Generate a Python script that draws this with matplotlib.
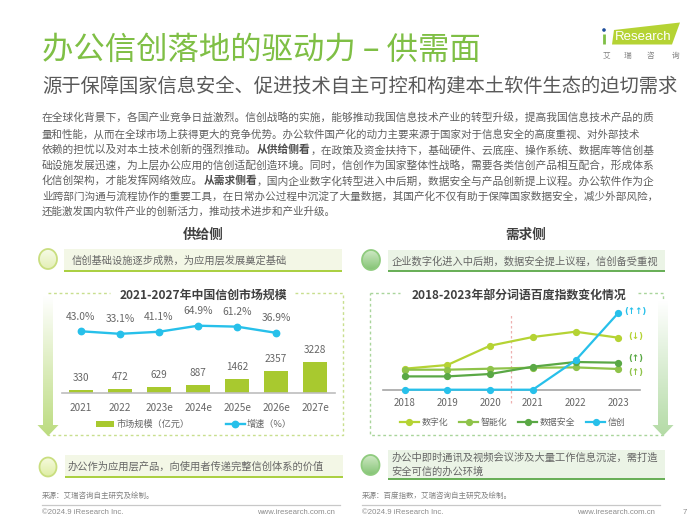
import numpy as np
import matplotlib
matplotlib.use('Agg')
import matplotlib.pyplot as plt
from matplotlib.patches import Circle, Polygon, Rectangle
from matplotlib.colors import LinearSegmentedColormap

plt.rcParams['font.family'] = ['Noto Sans CJK SC', 'DejaVu Sans']

# ---------- data ----------
market_years = ['2021', '2022', '2023e', '2024e', '2025e', '2026e', '2027e']
market_size = [330, 472, 629, 887, 1462, 2357, 3228]
growth = [43.0, 33.1, 41.1, 64.9, 61.2, 36.9]
index_years = [2018, 2019, 2020, 2021, 2022, 2023]
idx_digital = [21, 24.7, 44, 52.7, 58, 52]
idx_smart = [20, 20, 21, 22, 22.3, 20.7]
idx_datasec = [13.3, 13.3, 15.7, 23, 27.7, 27]
idx_xinchuang = [0, 0, 0, 0, 29.3, 76.7]

W, H = 700, 525
fig = plt.figure(figsize=(7, 5.25), dpi=100, facecolor='white')
bg = fig.add_axes([0, 0, 1, 1], zorder=0)
bg.set_xlim(0, W); bg.set_ylim(H, 0); bg.axis('off')

GREY = '#666666'

def T(x, y, s, size=7.4, color=GREY, ha='left', va='center', **kw):
    return bg.text(x, y, s, fontsize=size, color=color, ha=ha, va=va, **kw)

def grad(x0, x1, y0, y1, c0, c1, clip):
    cm = LinearSegmentedColormap.from_list('g', [c0, c1])
    im = bg.imshow(np.linspace(0, 1, 64)[:, None], extent=(x0, x1, y1, y0), cmap=cm,
                   aspect='auto', zorder=1, interpolation='bilinear')
    bg.add_patch(clip)
    clip.set_transform(bg.transData)
    im.set_clip_path(clip)
    bg.set_xlim(0, W); bg.set_ylim(H, 0)

def bubble(cx, cy, rx, edge, c0, c1):
    t = np.linspace(0, 2 * np.pi, 60)
    pts = np.c_[cx + rx * np.cos(t), cy + (rx + 1) * np.sin(t)]
    outer = Polygon(pts, closed=True, fc='none', ec=edge, lw=1.3, zorder=2)
    grad(cx - rx, cx + rx, cy - rx - 1, cy + rx + 1, c0, c1, outer)

def banner(x0, x1, y0, y1, face, line):
    bg.add_patch(Rectangle((x0, y0), x1 - x0, y1 - y0, fc=face, ec='none', zorder=1))
    bg.plot([x0, x1], [y1, y1], color=line, lw=1.4, zorder=2, solid_capstyle='butt')

def arrow(cx, y0, y1, c0, c1):
    pts = [(cx - 5, y0), (cx + 5, y0), (cx + 5, y1 - 11), (cx + 10.5, y1 - 11), (cx, y1),
           (cx - 10.5, y1 - 11), (cx - 5, y1 - 11)]
    grad(cx - 11, cx + 11, y0, y1, c0, c1, Polygon(pts, closed=True, fc='none', ec='none', zorder=2))

def dotted(x0, x1, y0, y1, gap0, gap1, color):
    kw = dict(color=color, lw=1.0, ls=(0, (2, 2)), zorder=1)
    bg.plot([x0, gap0], [y0, y0], **kw)
    bg.plot([gap1, x1, x1, x0, x0], [y0, y0, y1, y1, y0], **kw)

# ---------- header ----------
T(42, 50, '办公信创落地的驱动力 – 供需面', size=22.6, color='#7fbf45')
T(42, 86, '源于保障国家信息安全、促进技术自主可控和构建本土软件生态的迫切需求', size=13.9, color='#595959')

# logo
bg.add_patch(Polygon([(614, 30), (680, 22.5), (672, 44.5), (612, 44.5)], closed=True, fc='#b5d334', ec='none', zorder=1))
bg.add_patch(Circle((604, 30), 1.8, fc='#1f4e9c', ec='none', zorder=2))
bg.plot([604, 604], [33.5, 44], color='#7fbf45', lw=2, zorder=2, solid_capstyle='butt')
T(615, 37, 'Research', size=9.5, color='white', family=['Liberation Sans'])
for x, ch in zip([606, 627, 650, 676], '艾瑞咨询'):
    T(x, 56, ch, size=5.5, color='#808080', ha='center')

# ---------- body text ----------
body = [
    [('在全球化背景下，各国产业竞争日益激烈。信创战略的实施，能够推动我国信息技术产业的转型升级，提高我国信息技术产品的质', 0)],
    [('量和性能，从而在全球市场上获得更大的竞争优势。办公软件国产化的动力主要来源于国家对于信息安全的高度重视、对外部技术', 0)],
    [('依赖的担忧以及对本土技术创新的强烈推动。', 0), ('从供给侧看', 1), ('，在政策及资金扶持下，基础硬件、云底座、操作系统、数据库等信创基', 0)],
    [('础设施发展迅速，为上层办公应用的信创适配创造环境。同时，信创作为国家整体性战略，需要各类信创产品相互配合，形成体系', 0)],
    [('化信创架构，才能发挥网络效应。', 0), ('从需求侧看', 1), ('，国内企业数字化转型进入中后期，数据安全与产品创新提上议程。办公软件作为企', 0)],
    [('业跨部门沟通与流程协作的重要工具，在日常办公过程中沉淀了大量数据，其国产化不仅有助于保障国家数据安全，减少外部风险，', 0)],
    [('还能激发国内软件产业的创新活力，推动技术进步和产业升级。', 0)],
]
body_y = [118, 134, 150, 166, 181, 197, 212]
body_right = [651, 638, 651, 651, 651, 655, 335]
rend = fig.canvas.get_renderer()
for segs, y, right in zip(body, body_y, body_right):
    size = 7.7
    probe = [T(0, y, s, size=size, fontweight='bold' if b else 'normal') for s, b in segs]
    total = sum(p.get_window_extent(rend).width for p in probe)
    for p in probe:
        p.remove()
    size *= (right - 42) / total
    x = 42.0
    for s, b in segs:
        t = T(x, y, s, size=size, color='#4d4d4d' if b else '#5f5f5f', fontweight='bold' if b else 'normal')
        x += t.get_window_extent(rend).width

# ---------- side headings ----------
T(203, 235, '供给侧', size=9.8, color='#404040', ha='center', fontweight='bold')
T(526, 235, '需求侧', size=9.8, color='#404040', ha='center', fontweight='bold')

banner(64, 342, 249, 271, '#f3f7e6', '#a9cf3e')
bubble(48, 259, 9, '#c9de7f', '#f7fbe8', '#e3efb5')
T(72, 260.5, '信创基础设施逐步成熟，为应用层发展奠定基础')

banner(388, 665, 250, 271, '#ebf4e6', '#66ae55')
bubble(371, 260, 9, '#8fcb7e', '#cfe9c5', '#84c374')
T(392, 261.5, '企业数字化进入中后期，数据安全提上议程，信创备受重视')

# ---------- dashed frames and arrows ----------
dotted(48, 343, 293, 435, 110, 295, '#c8df8e')
dotted(370, 663, 293, 435, 400, 638, '#a9d59b')
arrow(48, 295, 436, '#ffffff', '#bcdc80')
arrow(663, 300, 436, '#ffffff', '#b4dba6')

T(203, 295, '2021-2027年中国信创市场规模', size=8.6, color='#404040', ha='center', fontweight='bold')
T(519, 295, '2018-2023年部分词语百度指数变化情况', size=8.6, color='#404040', ha='center', fontweight='bold')

# ---------- left chart ----------
def axes_px(x0, x1, ytop, ybot):
    a = fig.add_axes([x0 / W, 1 - ybot / H, (x1 - x0) / W, (ybot - ytop) / H], zorder=3)
    a.patch.set_alpha(0)
    for s in a.spines.values():
        s.set_visible(False)
    a.set_yticks([])
    return a

ax = axes_px(61.5, 334.5, 300, 393)
xs = np.arange(len(market_years))
bars = ax.bar(xs, market_size, width=0.62, color='#a8c92f', zorder=2)
ax.set_xlim(-0.5, 6.5)
ax.set_ylim(0, 9780)
ax.spines['bottom'].set_visible(True)
ax.spines['bottom'].set_color('#bdbdbd')
ax.spines['bottom'].set_linewidth(1.2)
ax.set_xticks(xs, market_years, fontsize=7.2, color=GREY)
ax.tick_params(axis='x', length=0, pad=7)
for x, v in zip(xs, market_size):
    ax.annotate(str(v), (x, v), xytext=(0, 8.6), textcoords='offset points', ha='center', va='center',
                fontsize=7.2, color=GREY)

ax2 = ax.twinx()
ax2.patch.set_alpha(0)
for s in ax2.spines.values():
    s.set_visible(False)
ax2.set_yticks([])
ax2.set_ylim(-199, 165.7)
line, = ax2.plot(xs[:len(growth)], growth, color='#27c0ea', lw=1.7, marker='o', ms=4.6, zorder=3)
for x, g in zip(xs[:len(growth)], growth):
    ax2.annotate(f'{g:.1f}%', (x, g), xytext=(0, 10.6), textcoords='offset points', ha='center', va='center',
                 fontsize=7.4, color=GREY)
fig.legend([bars, line], ['市场规模（亿元）', '增速（%）'], loc='center',
           bbox_to_anchor=(194 / W, 1 - 424.5 / H), ncols=2, frameon=False, fontsize=6.6, labelcolor=GREY,
           handlelength=2.0, handletextpad=0.25, columnspacing=4.0, borderpad=0)

# ---------- right chart ----------
ar = axes_px(383.3, 639.6, 305, 389.7)
series = [('数字化', idx_digital, '#b5d334'), ('智能化', idx_smart, '#8fc34a'),
          ('数据安全', idx_datasec, '#5aa845'), ('信创', idx_xinchuang, '#27c0ea')]
trend_marks = ['(↓)', '(↑)', '(↑)', '(↑↑)']
handles = []
for name, vals, col in series:
    h, = ar.plot(index_years, vals, color=col, lw=1.6, marker='o', ms=4.2, clip_on=False, zorder=3)
    handles.append(h)
ar.set_xlim(2017.5, 2023.5)
ar.set_ylim(0, 84.7)
ar.spines['bottom'].set_visible(True)
ar.spines['bottom'].set_color('#a6a6a6')
ar.spines['bottom'].set_linewidth(1.2)
ar.set_xticks(index_years, [str(y) for y in index_years], fontsize=7.0, color=GREY)
ar.tick_params(axis='x', length=0, pad=6)
ar.plot([2020.5, 2020.5], [-13.5, 76.5], color='#eeb0b0', lw=0.9, ls=(0, (2, 2)), clip_on=False, zorder=1)
for (name, vals, col), lab, dy in zip(series, trend_marks, [0.7, -2.2, 2.7, 1.4]):
    ar.annotate(lab, (index_years[-1], vals[-1]), xytext=(12.5, dy), textcoords='offset points', ha='center', va='center',
                fontsize=6.2, color=col, fontweight='bold', family=['DejaVu Sans'], annotation_clip=False)
fig.legend(handles, [s[0] for s in series], loc='center', bbox_to_anchor=(512.5 / W, 1 - 422.7 / H), ncols=4,
           frameon=False, fontsize=6.4, labelcolor=GREY, handlelength=2.2, handletextpad=0.25,
           columnspacing=1.2, borderpad=0)

# ---------- bottom banners ----------
banner(65, 343, 455, 477, '#f3f7e6', '#a9cf3e')
bubble(48, 467, 8.5, '#c9de7f', '#f7fbe0', '#dfeea5')
T(68, 466.5, '办公作为应用层产品，向使用者传递完整信创体系的价值')

banner(388, 665, 450, 479, '#ebf4e6', '#66ae55')
bubble(370.5, 465, 9, '#8fcb7e', '#cfe9c5', '#84c374')
T(391.5, 458, '办公中即时通讯及视频会议涉及大量工作信息沉淀，需打造')
T(391.5, 472, '安全可信的办公环境')

# ---------- footer ----------
T(42, 496, '来源：艾瑞咨询自主研究及绘制。', size=5.4, color='#808080')
T(362, 496, '来源：百度指数，艾瑞咨询自主研究及绘制。', size=5.4, color='#808080')
for x0, x1 in [(42, 340), (362, 660)]:
    bg.plot([x0, x1], [504.5, 504.5], color='#c8c8c8', lw=0.9, zorder=1)
F = ['Liberation Sans']
T(42, 512.5, '©2024.9 iResearch Inc.', size=5.6, color='#8c8c8c', family=F)
T(335, 512.5, 'www.iresearch.com.cn', size=5.6, color='#8c8c8c', ha='right', family=F)
T(362, 512.5, '©2024.9 iResearch Inc.', size=5.6, color='#8c8c8c', family=F)
T(655, 512.5, 'www.iresearch.com.cn', size=5.6, color='#8c8c8c', ha='right', family=F)
T(685, 512.5, '7', size=5.6, color='#8c8c8c', ha='center', family=F)

fig.savefig('out.png', dpi=100, facecolor='white')
